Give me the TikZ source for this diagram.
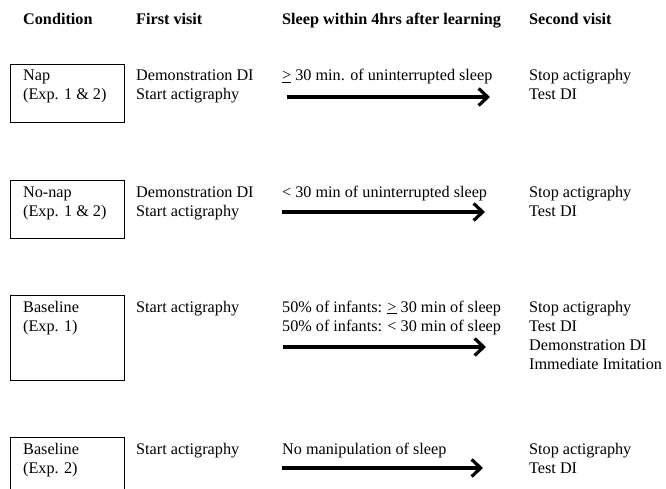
\documentclass[tikz,border=0pt]{standalone}
\usepackage{fontspec}
\setmainfont{Liberation Serif}
\usetikzlibrary{arrows.meta}
\begin{document}
\begin{tikzpicture}[x=1pt,y=-1pt,
  txt/.style={anchor=base west,inner sep=0pt,font=\fontsize{16.2}{19}\selectfont},
  hdr/.style={txt,font=\fontsize{16.2}{19}\selectfont\bfseries},
  cbox/.style={draw,line width=1pt},
  flow/.style={line width=3.2pt,-{Straight Barb[length=9pt,width=17pt]}}]
\useasboundingbox (0,0) rectangle (666,489);
% headers
\node[hdr] (h1) at (23,25) {Condition};
\node[hdr] (h2) at (136,25) {First visit};
\node[hdr] (h3) at (282,25) {Sleep within 4hrs after learning};
\node[hdr] (h4) at (529,25) {Second visit};
% boxes
\draw[cbox] (10,65) rectangle (124,123);
\draw[cbox] (10,181) rectangle (124,238);
\draw[cbox] (10,295) rectangle (124,380);
\draw[cbox] (10,489) -- (10,437) -- (124,437) -- (124,489);
% row 1
\node[txt] (r1a) at (23,81) {Nap};
\node[txt] (r1b) at (23,100) {(Exp. 1 \& 2)};
\node[txt] (r1c) at (136,81) {Demonstration DI};
\node[txt] (r1d) at (136,100) {Start actigraphy};
\node[txt] (r1e) at (282,81) {\underline{>} 30 min. of uninterrupted sleep};
\node[txt] (r1f) at (529,81) {Stop actigraphy};
\node[txt] (r1g) at (529,100) {Test DI};
\coordinate (a1s) at (287,97);
\coordinate (a1e) at (490,97);
\draw[flow] (a1s) -- (a1e);
% row 2
\node[txt] (r2a) at (23,197) {No-nap};
\node[txt] (r2b) at (23,216) {(Exp. 1 \& 2)};
\node[txt] (r2c) at (136,197) {Demonstration DI};
\node[txt] (r2d) at (136,216) {Start actigraphy};
\node[txt] (r2e) at (282,197) {< 30 min of uninterrupted sleep};
\node[txt] (r2f) at (529,197) {Stop actigraphy};
\node[txt] (r2g) at (529,216) {Test DI};
\coordinate (a2s) at (282,212);
\coordinate (a2e) at (485,212);
\draw[flow] (a2s) -- (a2e);
% row 3
\node[txt] (r3a) at (23,312) {Baseline};
\node[txt] (r3b) at (23,331) {(Exp. 1)};
\node[txt] (r3c) at (136,312) {Start actigraphy};
\node[txt] (r3d) at (282,312) {50\% of infants: \underline{>} 30 min of sleep};
\node[txt] (r3e) at (282,331) {50\% of infants: < 30 min of sleep};
\node[txt] (r3f) at (529,312) {Stop actigraphy};
\node[txt] (r3g) at (529,331) {Test DI};
\node[txt] (r3h) at (529,350) {Demonstration DI};
\node[txt] (r3i) at (529,369) {Immediate Imitation};
\coordinate (a3s) at (283,347);
\coordinate (a3e) at (486,347);
\draw[flow] (a3s) -- (a3e);
% row 4
\node[txt] (r4a) at (23,454) {Baseline};
\node[txt] (r4b) at (23,473) {(Exp. 2)};
\node[txt] (r4c) at (136,454) {Start actigraphy};
\node[txt] (r4d) at (282,454) {No manipulation of sleep};
\node[txt] (r4f) at (529,454) {Stop actigraphy};
\node[txt] (r4g) at (529,473) {Test DI};
\coordinate (a4s) at (282,468);
\coordinate (a4e) at (483,468);
\draw[flow] (a4s) -- (a4e);
\end{tikzpicture}
\end{document}
